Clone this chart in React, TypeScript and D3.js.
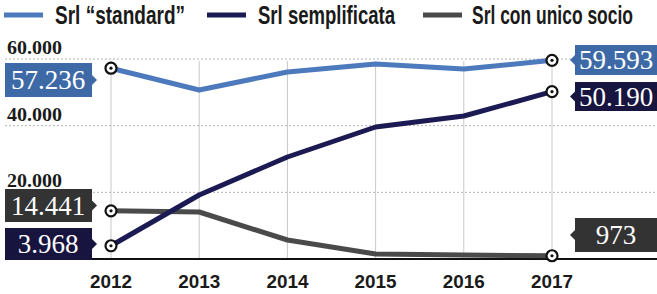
import React, { useLayoutEffect, useRef, useState } from 'react';
import * as d3 from 'd3';

const years = [2012, 2013, 2014, 2015, 2016, 2017];
const standard = [57236, 50700, 56100, 58500, 57000, 59593];
const semplificata = [3968, 19200, 30600, 39600, 42900, 50190];
const unicoSocio = [14441, 14100, 5700, 1500, 1200, 973];
const yTicks = [20000, 40000, 60000];

const seriesNames = ['Srl \u201cstandard\u201d', 'Srl semplificata', 'Srl con unico socio'];
const lineColors = ['#4d79bd', '#1c1a52', '#4a4a4a'];
const boxColors = ['#3d6aa6', '#17153f', '#333333'];

const fmt = (v: number) => v.toLocaleString('de-DE');

const W = 657;
const H = 294;

const App: React.FC = () => {
  const x = d3.scalePoint<number>().domain(years).range([111, 552]);
  const y = d3.scaleLinear().domain([0, 60000]).range([259, 59]);
  const line = d3.line<number>()
    .x((_, i) => x(years[i]) as number)
    .y(d => y(d));
  const allSeries = [standard, semplificata, unicoSocio];

  const labelFont = '"Liberation Serif", "Times New Roman", serif';
  const sansFont = '"Liberation Sans", Arial, sans-serif';

  // legend: swatch start, text start, wanted text width
  const legend = [
    { x0: 4, tx: 55, tw: 130 },
    { x0: 207, tx: 258, tw: 137 },
    { x0: 423, tx: 472, tw: 161 },
  ];

  // squeeze the legend text horizontally (condensed look)
  const legendRefs = useRef<(SVGTextElement | null)[]>([]);
  const [legendScale, setLegendScale] = useState<number[]>([0.76, 0.75, 0.7]);
  useLayoutEffect(() => {
    const s = legend.map((p, i) => {
      const el = legendRefs.current[i];
      const w = el ? el.getComputedTextLength() : 0;
      return w > 0 ? p.tw / w : legendScale[i];
    });
    setLegendScale(s);
  }, []);

  const leftBoxes = [
    { s: 0, top: 63, bottom: 97 },
    { s: 2, top: 189, bottom: 222 },
    { s: 1, top: 228, bottom: 260 },
  ];
  const rightBoxes = [
    { s: 0, top: 45, bottom: 75 },
    { s: 1, top: 82, bottom: 111 },
    { s: 2, top: 218, bottom: 252 },
  ];

  return (
    <svg width={W} height={H} style={{ position: 'absolute', left: 0, top: 0, background: '#fff' }}>
      {/* legend */}
      {legend.map((p, i) => (
        <g key={i}>
          <line x1={p.x0} x2={p.x0 + 39} y1={15} y2={15} stroke={lineColors[i]} strokeWidth={5} />
          <text ref={el => { legendRefs.current[i] = el; }}
            transform={`translate(${p.tx},24) scale(${legendScale[i]},1)`}
            fontFamily={sansFont} fontWeight="bold" fontSize={25} fill="#1a1a1a">
            {seriesNames[i]}
          </text>
        </g>
      ))}

      {/* vertical gridlines */}
      {years.map(yr => (
        <line key={yr} x1={x(yr)} x2={x(yr)} y1={y(60000) + 2} y2={y(0)} stroke="#c8c8c8" strokeWidth={1} />
      ))}

      {/* horizontal gridlines */}
      {yTicks.map(t => (
        <g key={t}>
          <line x1={5} x2={W} y1={y(t)} y2={y(t)} stroke="#b5b5b5" strokeWidth={1} strokeDasharray="2,2" />
          <text x={7} y={y(t) - 5} fontFamily={labelFont} fontWeight="bold" fontSize={19} fill="#1a1a1a"
            textLength={55} lengthAdjust="spacingAndGlyphs">
            {fmt(t)}
          </text>
        </g>
      ))}

      {/* baseline */}
      <line x1={92} x2={W} y1={y(0)} y2={y(0)} stroke="#111" strokeWidth={2} />

      {/* lines */}
      {[2, 0, 1].map(i => (
        <path key={i} d={line(allSeries[i]) || ''} fill="none" stroke={lineColors[i]} strokeWidth={5} strokeLinejoin="round" />
      ))}

      {/* markers */}
      {allSeries.map((s, i) => [0, years.length - 1].map(j => (
        <g key={`${i}-${j}`} transform={`translate(${x(years[j])},${y(s[j])})`}>
          <circle r={5.5} fill="#fff" stroke="#111" strokeWidth={2.2} />
          <circle r={1.6} fill="#111" />
        </g>
      )))}

      {/* left boxes */}
      {leftBoxes.map(b => {
        const cy = (b.top + b.bottom) / 2;
        return (
          <g key={`l${b.s}`}>
            <rect x={5} y={b.top} width={87} height={b.bottom - b.top} fill={boxColors[b.s]} />
            <path d={`M92,${cy - 5}L97,${cy}L92,${cy + 5}Z`} fill={boxColors[b.s]} />
            <text x={48} y={cy + 9} textAnchor="middle" fontFamily={labelFont} fontSize={27} fill="#fff">
              {fmt(allSeries[b.s][0])}
            </text>
          </g>
        );
      })}

      {/* right boxes */}
      {rightBoxes.map(b => {
        const cy = (b.top + b.bottom) / 2;
        return (
          <g key={`r${b.s}`}>
            <rect x={575} y={b.top} width={W - 575} height={b.bottom - b.top} fill={boxColors[b.s]} />
            <path d={`M575,${cy - 5}L570,${cy}L575,${cy + 5}Z`} fill={boxColors[b.s]} />
            <text x={616} y={cy + 9} textAnchor="middle" fontFamily={labelFont} fontSize={27} fill="#fff">
              {fmt(allSeries[b.s][years.length - 1])}
            </text>
          </g>
        );
      })}

      {/* x labels */}
      {years.map(yr => (
        <text key={yr} x={x(yr)} y={288} textAnchor="middle" fontFamily={sansFont} fontWeight="bold" fontSize={19} fill="#1a1a1a"
          textLength={42} lengthAdjust="spacingAndGlyphs">
          {yr}
        </text>
      ))}
    </svg>
  );
};

export default App;
